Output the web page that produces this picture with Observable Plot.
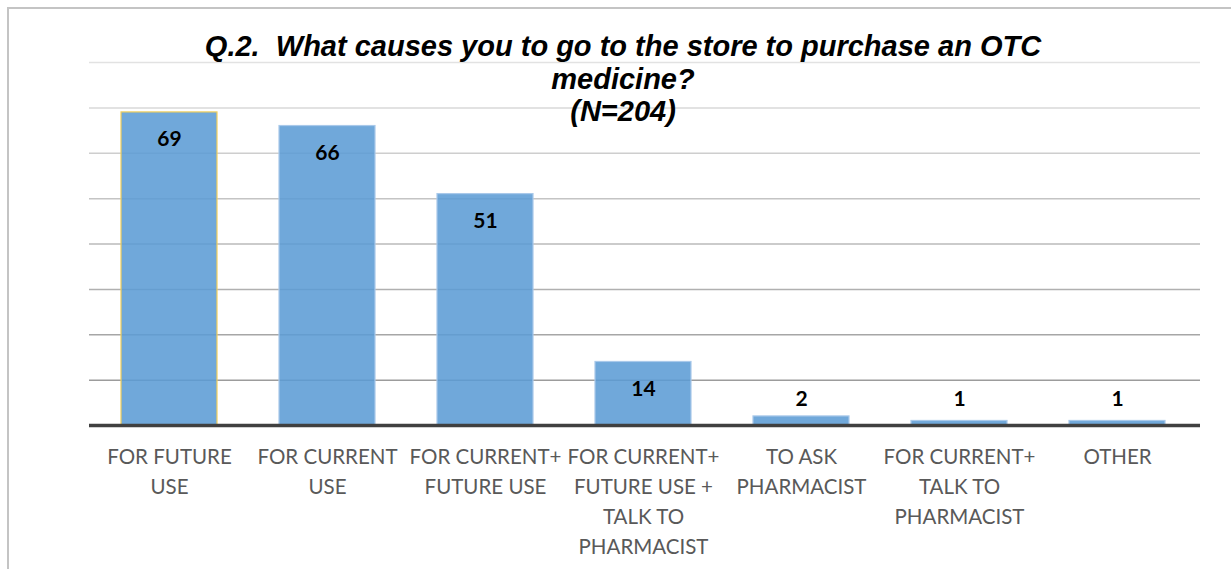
<!DOCTYPE html>
<html>
<head>
<meta charset="utf-8">
<script src="https://cdn.jsdelivr.net/npm/d3@7"></script>
<script src="https://cdn.jsdelivr.net/npm/@observablehq/plot@0.6"></script>
<style>
  html, body { margin: 0; padding: 0; background: #fff; }
  #wrap { position: relative; width: 1231px; height: 569px; overflow: hidden; }
  #frame { position: absolute; left: 7px; top: 7px; right: -5px; bottom: -5px;
           border-top: 2px solid #c4c4c4; border-left: 2px solid #c4c4c4; pointer-events: none; }
  #chart { position: absolute; left: 0; top: 0; }
</style>
</head>
<body>
<div id="wrap"><div id="chart"></div><div id="frame"></div></div>
<script>
const titleLines = [
  "Q.2.\u00a0 What causes you to go to the store to purchase an OTC",
  "medicine?",
  "(N=204)"
];
const categories = [
  "FOR FUTURE\nUSE",
  "FOR CURRENT\nUSE",
  "FOR CURRENT+\nFUTURE USE",
  "FOR CURRENT+\nFUTURE USE +\nTALK TO\nPHARMACIST",
  "TO ASK\nPHARMACIST",
  "FOR CURRENT+\nTALK TO\nPHARMACIST",
  "OTHER"
];
const values = [69, 66, 51, 14, 2, 1, 1];
const yTicks = [10, 20, 30, 40, 50, 60, 70, 80];

const data = categories.map((c, i) => ({category: c, value: values[i]}));
const gridColor = d3.scaleLinear().domain([10, 80]).range(["#9c9c9c", "#e2e2e2"]);

const chart = Plot.plot({
  width: 1231,
  height: 569,
  marginLeft: 89,
  marginRight: 31,
  marginTop: 62,
  marginBottom: 144,
  style: {background: "transparent", overflow: "visible"},
  x: {domain: categories, paddingInner: 0.395, paddingOuter: 0.1975, align: 0.47, axis: null},
  y: {domain: [0, 80], axis: null},
  marks: [
    Plot.ruleY(yTicks, {y: d => d, stroke: d => gridColor(d), strokeWidth: 1.5}),
    Plot.barY(data, {
      x: "category", y: "value",
      fill: "#5b9bd5", fillOpacity: 0.87,
      stroke: d => d.category === categories[0] ? "#f2cf5b" : "#a9c9ea",
      strokeWidth: 1.2
    }),
    Plot.ruleY([0], {stroke: "#404040", strokeWidth: 3.5}),
    Plot.text(data.filter(d => d.value >= 10), {
      x: "category", y: "value", text: d => String(d.value),
      dy: 27, lineAnchor: "middle", fontSize: 21, fontWeight: "bold",
      fontFamily: "Lato, 'Open Sans', sans-serif", fill: "#000"
    }),
    Plot.text(data.filter(d => d.value < 10), {
      x: "category", y: 0, text: d => String(d.value),
      dy: -26, lineAnchor: "middle", fontSize: 21, fontWeight: "bold",
      fontFamily: "Lato, 'Open Sans', sans-serif", fill: "#000"
    }),
    Plot.text(categories, {
      x: d => d, y: 0, text: d => d,
      dy: 17, lineAnchor: "top", fontSize: 20.5, lineHeight: 1.46,
      fontFamily: "Lato, 'Open Sans', sans-serif", fill: "#595959"
    }),
    Plot.text([titleLines.join("\n")], {
      frameAnchor: "top", dx: -22, dy: -30, lineAnchor: "top",
      fontSize: 29, lineHeight: 1.13, fontWeight: "bold", fontStyle: "italic",
      fontFamily: "'Liberation Sans', Arial, sans-serif", fill: "#000"
    })
  ]
});
document.getElementById("chart").appendChild(chart);
</script>
</body>
</html>
